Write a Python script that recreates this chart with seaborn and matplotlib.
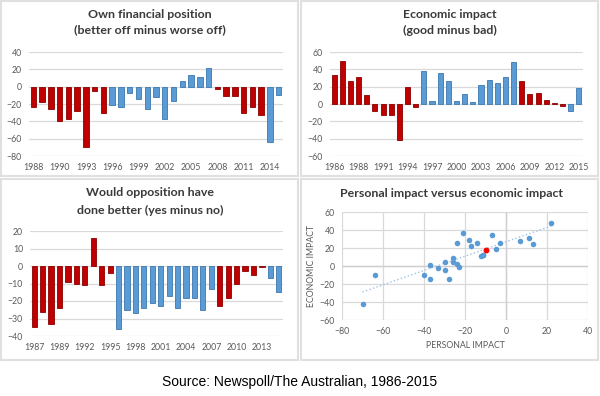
import matplotlib
matplotlib.use('Agg')
import matplotlib.pyplot as plt
from matplotlib.patches import Rectangle
import seaborn as sns

# ─── DATA ─────────────────────────────────────────────────────────────────────

# Own financial position (better off minus worse off)
fin_values = [-24, -18, -26, -40, -37, -28, -70, -5, -30,
              -21, -24, -7, -14, -26, -12, -37, -17, 7, 13, 11, 22,
              -3, -11, -11, -30, -23, -33,
              -64, -10]
fin_party = list('LLLLLLLLLCCCCCCCCCCCCLLLLLLCC')
fin_ticks = ['1988', '1990', '1993', '1996', '1999', '2002', '2005', '2008', '2011', '2014']

# Economic impact (good minus bad)
econ_values = [33, 50, 27, 31, 10, -8, -13, -13, -41, 20, -3,
               38, 4, 36, 27, 4, 12, 2, 22, 28, 24, 31, 48,
               26, 12, 13, 5, 1, -2,
               -8, 18]
econ_party = list('LLLLLLLLLLLCCCCCCCCCCCCLLLLLLCC')
econ_ticks = ['1986', '1988', '1991', '1994', '1997', '2000', '2003', '2006', '2009', '2012', '2015']

# Would opposition have done better (yes minus no)
opp_values = [-35, -26, -33, -24, -9, -10, -11, 16, -11, -4,
              -36, -25, -27, -24, -21, -23, -17, -24, -18, -18, -25, -13,
              -23, -18, -10, -3, -5, -0.5,
              -7, -15]
opp_party = list('LLLLLLLLLLCCCCCCCCCCCCLLLLLLCC')
opp_ticks = ['1987', '1989', '1992', '1995', '1998', '2001', '2004', '2007', '2010', '2013']

# Personal impact versus economic impact (last point = 2015)
personal = [-24, -18, -26, -40, -37, -28, -70, -5, -30, -21, -24, -7, -14, -26, -12,
            -37, -17, 7, 13, 11, 22, -3, -11, -11, -30, -23, -33, -64, -10]
economic = [26, 29, 9, -10, -14, -14, -42, 19, -4, 37, 2, 35, 26, 4, 11,
            1, 22, 28, 24, 31, 48, 26, 12, 12, 5, -1, -2, -10, 18]

# ─── STYLE ────────────────────────────────────────────────────────────────────

RED = '#C00000'
BLUE = '#5B9BD5'
EDGE = {'#c00000': '#8A0000', '#5b9bd5': '#3B78B0'}
PALETTE = {'L': RED, 'C': BLUE}
GRID = '#D9D9D9'
TICK = '#595959'
TITLE = '#3A3A3A'
TICK_SIZE = 6.3

sns.set_theme(style='white')
plt.rcParams['font.family'] = ['Lato', 'DejaVu Sans']

W, H = 600, 396
fig = plt.figure(figsize=(W / 100, H / 100), dpi=100)


def px_axes(x0, y0, x1, y1):
    return fig.add_axes([x0 / W, 1 - y1 / H, (x1 - x0) / W, (y1 - y0) / H])


def title(x, y, text):
    fig.text(x / W, 1 - y / H, text, ha='center', va='center',
             fontsize=8.9, fontweight='bold', color=TITLE)


def bar_panel(ax, values, party, ticks, ylim, ystep):
    idx = list(range(len(values)))
    sns.barplot(x=idx, y=values, hue=party, palette=PALETTE, dodge=False,
                width=0.62, saturation=1, legend=False, ax=ax, linewidth=0.6)
    for p in ax.patches:
        fc = matplotlib.colors.to_hex(p.get_facecolor())
        p.set_edgecolor(EDGE.get(fc, fc))
    ax.set_xlim(-0.5, len(values) - 0.5)
    ax.set_ylim(*ylim)
    ax.set_yticks(range(ylim[0], ylim[1] + 1, ystep))
    ax.set_xticks(idx[::3])
    ax.set_xticklabels(ticks)
    ax.yaxis.grid(True, color=GRID, lw=0.9)
    ax.xaxis.grid(False)
    ax.set_axisbelow(True)
    sns.despine(ax=ax, left=True, bottom=True)
    ax.tick_params(length=0, labelsize=TICK_SIZE, colors=TICK)
    ax.tick_params(axis='y', pad=5)
    ax.tick_params(axis='x', pad=5)
    ax.set_xlabel('')
    ax.set_ylabel('')


# panel frames
for x0, y0, x1, y1 in [(1, 1, 298, 176), (301, 1, 598, 176),
                       (1, 179, 298, 360), (301, 179, 598, 360)]:
    fig.patches.append(Rectangle((x0 / W, 1 - y1 / H), (x1 - x0) / W, (y1 - y0) / H,
                                 transform=fig.transFigure, fill=False,
                                 edgecolor='#E0E0E0', lw=1.5))

ax1 = px_axes(29, 52, 283, 156)
bar_panel(ax1, fin_values, fin_party, fin_ticks, (-80, 40), 20)
title(150, 14, 'Own financial position')
title(150, 30, '(better off minus worse off)')

ax2 = px_axes(330, 52, 583, 156)
bar_panel(ax2, econ_values, econ_party, econ_ticks, (-60, 60), 20)
title(450, 14, 'Economic impact')
title(450, 30, '(good minus bad)')

ax3 = px_axes(30, 231, 283, 336)
bar_panel(ax3, opp_values, opp_party, opp_ticks, (-40, 20), 10)
title(150, 193, 'Would opposition have')
title(150, 210, 'done better (yes minus no)')

# scatter panel
ax4 = px_axes(342, 212, 588, 320)
sns.regplot(x=personal, y=economic, scatter=False, ci=None, ax=ax4,
            line_kws=dict(color='#9DC3E6', lw=1.0, ls=':'))
sns.scatterplot(x=personal[:-1], y=economic[:-1], color=BLUE, s=16,
                linewidth=0, ax=ax4, zorder=3)
sns.scatterplot(x=personal[-1:], y=economic[-1:], color='#FF0000', s=18,
                linewidth=0, ax=ax4, zorder=4)
ax4.set_xlim(-80, 40)
ax4.set_ylim(-60, 60)
ax4.set_xticks(range(-80, 41, 20))
ax4.set_yticks(range(-60, 61, 20))
ax4.grid(True, color=GRID, lw=0.9)
ax4.axhline(0, color='#CFCFCF', lw=1.0, zorder=1)
ax4.axvline(0, color='#CFCFCF', lw=1.0, zorder=1)
ax4.set_axisbelow(True)
sns.despine(ax=ax4, left=True, bottom=True)
ax4.tick_params(length=0, labelsize=TICK_SIZE, colors=TICK, pad=5)
ax4.set_xlabel('PERSONAL IMPACT', fontsize=TICK_SIZE, color=TICK, labelpad=4)
ax4.set_ylabel('ECONOMIC IMPACT', fontsize=TICK_SIZE, color=TICK, labelpad=3)
title(451, 194, 'Personal impact versus economic impact')

fig.text(0.5, 1 - 382 / H, 'Source: Newspoll/The Australian, 1986-2015',
         ha='center', va='center', fontsize=10, color='black',
         family=['Liberation Sans', 'DejaVu Sans'])

fig.savefig('out.png', dpi=100, facecolor='white')
